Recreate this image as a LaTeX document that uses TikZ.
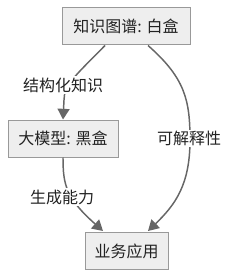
\documentclass[tikz,border=0pt]{standalone}
\usepackage{fontspec}
\setmainfont{Noto Sans CJK SC}
\usetikzlibrary{arrows.meta,calc}
\definecolor{boxfill}{HTML}{EEEEEE}
\definecolor{boxline}{HTML}{999999}
\definecolor{edgecol}{HTML}{666666}
\definecolor{txt}{HTML}{222222}
\begin{document}
\begin{tikzpicture}[x=0.75pt,y=-0.75pt,
  box/.style={draw=boxline,fill=boxfill,line width=0.75pt,minimum height=27.75pt,inner xsep=5.5pt,inner ysep=0pt,text=txt,font=\fontsize{12}{14}\selectfont},
  lbl/.style={fill=white,inner sep=1pt,text=txt,font=\fontsize{12}{14}\selectfont},
  edge/.style={draw=edgecol,line width=1.1pt,-{Triangle[length=8pt,width=9pt]}}]
\useasboundingbox (0,0) rectangle (231,278);
\node[box,minimum width=96pt] (b1) at (126,26.5) {知识图谱: 白盒};
\node[box,minimum width=82.5pt] (b2) at (63,138.5) {大模型: 黑盒};
\node[box,minimum width=62.25pt] (b3) at (126.5,251) {业务应用};
\draw[edge] ($(b1.south)+(-21,0)$) .. controls (75,76) and (64,85) .. (64,100) -- (b2.north |- 0,119.5);
\draw[edge] (b2.south) .. controls (63,185) and (66,198) .. (103,231);
\draw[edge] ($(b1.south)+(22,0)$) .. controls (185,78) and (190,100) .. (190,140) .. controls (190,185) and (175,205) .. (148,231);
\node[lbl] (l1) at (63,85) {结构化知识};
\node[lbl] (l2) at (62,197) {生成能力};
\node[lbl] (l3) at (189,138.5) {可解释性};
\end{tikzpicture}
\end{document}
